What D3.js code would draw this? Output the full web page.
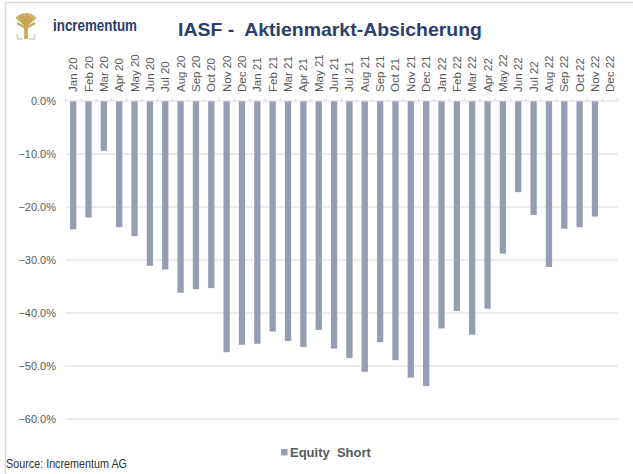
<!DOCTYPE html>
<html>
<head>
<meta charset="utf-8">
<script src="https://cdn.jsdelivr.net/npm/d3@7"></script>
<style>
  html, body { margin: 0; padding: 0; background: #fff; }
  svg { display: block; font-family: "Liberation Sans", Arial, sans-serif; }
</style>
</head>
<body>
<svg id="chart" width="633" height="474"></svg>
<script>
// ---- Data ----
const categories = ["Jan 20","Feb 20","Mar 20","Apr 20","May 20","Jun 20","Jul 20","Aug 20","Sep 20","Oct 20","Nov 20","Dec 20",
  "Jan 21","Feb 21","Mar 21","Apr 21","May 21","Jun 21","Jul 21","Aug 21","Sep 21","Oct 21","Nov 21","Dec 21",
  "Jan 22","Feb 22","Mar 22","Apr 22","May 22","Jun 22","Jul 22","Aug 22","Sep 22","Oct 22","Nov 22","Dec 22"];
const equityShort = [-24.2,-22.0,-9.4,-23.8,-25.5,-31.1,-31.8,-36.2,-35.5,-35.3,-47.4,-46.0,
  -45.8,-43.5,-45.3,-46.4,-43.2,-46.7,-48.5,-51.1,-45.5,-48.9,-52.2,-53.8,
  -42.9,-39.6,-44.1,-39.2,-28.8,-17.2,-21.5,-31.3,-24.1,-23.8,-21.8,null];
const yTicks = [0,-10,-20,-30,-40,-50,-60];
const seriesName = "Equity  Short";
const titleText = "IASF -  Aktienmarkt-Absicherung";
const brandText = "incrementum";
const sourceText = "Source: Incrementum AG";

// ---- Setup ----
const svg = d3.select("#chart");
const plot = { left: 65.5, right: 618, top: 101, bottom: 419 };
const gray = "#595959";
const gridColor = "#d9d9d9";
const barColor = "#959db3";

// frame lines
svg.append("line").attr("x1",5).attr("x2",633).attr("y1",2.5).attr("y2",2.5).attr("stroke","#d9d9d9").attr("stroke-width",1.5);
svg.append("line").attr("x1",5.5).attr("x2",5.5).attr("y1",2).attr("y2",474).attr("stroke","#d9d9d9").attr("stroke-width",1.5);

// logo: fan-shaped golden tree with grey base brackets
const logo = svg.append("g").attr("transform","translate(17,12)");
const gold = "#c9a757";
const trunkX = 9, trunkTop = 14;
d3.range(9).forEach(i => {
  const a = -Math.PI/2 + (i - 4) * 0.2;
  const len = 13;
  logo.append("line")
    .attr("x1", trunkX).attr("y1", trunkTop)
    .attr("x2", trunkX + Math.cos(a)*len*1.05).attr("y2", trunkTop + Math.sin(a)*len)
    .attr("stroke", gold).attr("stroke-width", 2.2);
});
[-1,1].forEach(s => {
  logo.append("line").attr("x1",trunkX).attr("y1",trunkTop+2).attr("x2",trunkX+s*9).attr("y2",trunkTop-3)
    .attr("stroke",gold).attr("stroke-width",2.2);
});
logo.append("rect").attr("x",trunkX-1.8).attr("y",trunkTop-1).attr("width",3.6).attr("height",14).attr("fill",gold);
logo.append("path").attr("fill","none").attr("stroke","#d0d0d0").attr("stroke-width",1.6)
  .attr("d","M0.5,22 L0.5,27 L6,27 M12,27 L17.5,27 L17.5,22");
svg.append("text").attr("x",53).attr("y",30.5).attr("fill","#2b3a6b")
  .attr("font-size",16.5).attr("font-weight","bold").attr("textLength",84).attr("lengthAdjust","spacingAndGlyphs")
  .text(brandText);

// title
svg.append("text").attr("x",178).attr("y",36).attr("fill","#2e3e6c")
  .attr("font-size",19).attr("font-weight","bold").attr("textLength",304).attr("lengthAdjust","spacingAndGlyphs")
  .style("white-space","pre").text(titleText);

// scales
const x = d3.scaleBand().domain(categories).range([plot.left, plot.right]).paddingInner(0.59).paddingOuter(0.295);
const xb = d3.scaleBand().domain(categories).range([plot.left, plot.right]);
const y = d3.scaleLinear().domain([-60, 0]).range([plot.bottom, plot.top]);

// grid
svg.append("g").selectAll("line").data(yTicks.filter(d => d !== 0)).join("line")
  .attr("x1", plot.left).attr("x2", plot.right)
  .attr("y1", d => y(d)).attr("y2", d => y(d))
  .attr("stroke", gridColor).attr("stroke-width", 1.2);

// y labels
svg.append("g").selectAll("text").data(yTicks).join("text")
  .attr("x", 56).attr("y", d => y(d)).attr("dy","0.35em")
  .attr("text-anchor","end").attr("fill",gray).attr("font-size",11)
  .text(d => d3.format(".1f")(d) + "%");

// bars
svg.append("g").selectAll("rect").data(categories.map((c,i)=>({c, v: equityShort[i]})).filter(d => d.v !== null)).join("rect")
  .attr("x", d => x(d.c)).attr("width", x.bandwidth())
  .attr("y", y(0)).attr("height", d => y(d.v) - y(0))
  .attr("fill", barColor);

// x axis line and ticks
svg.append("line").attr("x1",plot.left).attr("x2",plot.right).attr("y1",y(0)).attr("y2",y(0))
  .attr("stroke",gridColor).attr("stroke-width",1.2);
svg.append("g").selectAll("line").data(categories.concat(["__end"])).join("line")
  .attr("x1", (d,i) => plot.left + i*xb.bandwidth()).attr("x2", (d,i) => plot.left + i*xb.bandwidth())
  .attr("y1", y(0)).attr("y2", y(0) - 3)
  .attr("stroke", gridColor).attr("stroke-width",1);

// x labels
svg.append("g").selectAll("text").data(categories).join("text")
  .attr("transform", d => `translate(${xb(d) + xb.bandwidth()/2},92) rotate(-90)`)
  .attr("dominant-baseline","central")
  .attr("text-anchor","start").attr("fill",gray).attr("font-size",11.5)
  .text(d => d);

// legend
const leg = svg.append("g").attr("transform","translate(281,449)");
leg.append("rect").attr("width",6.5).attr("height",6.5).attr("fill",barColor);
leg.append("text").attr("x",9).attr("y",8).attr("fill",gray).attr("font-size",13).attr("font-weight","bold")
  .style("white-space","pre").text(seriesName);

// source
svg.append("text").attr("x",6).attr("y",468).attr("fill","#333").attr("font-size",12)
  .attr("textLength",121).attr("lengthAdjust","spacingAndGlyphs").text(sourceText);
</script>
</body>
</html>
